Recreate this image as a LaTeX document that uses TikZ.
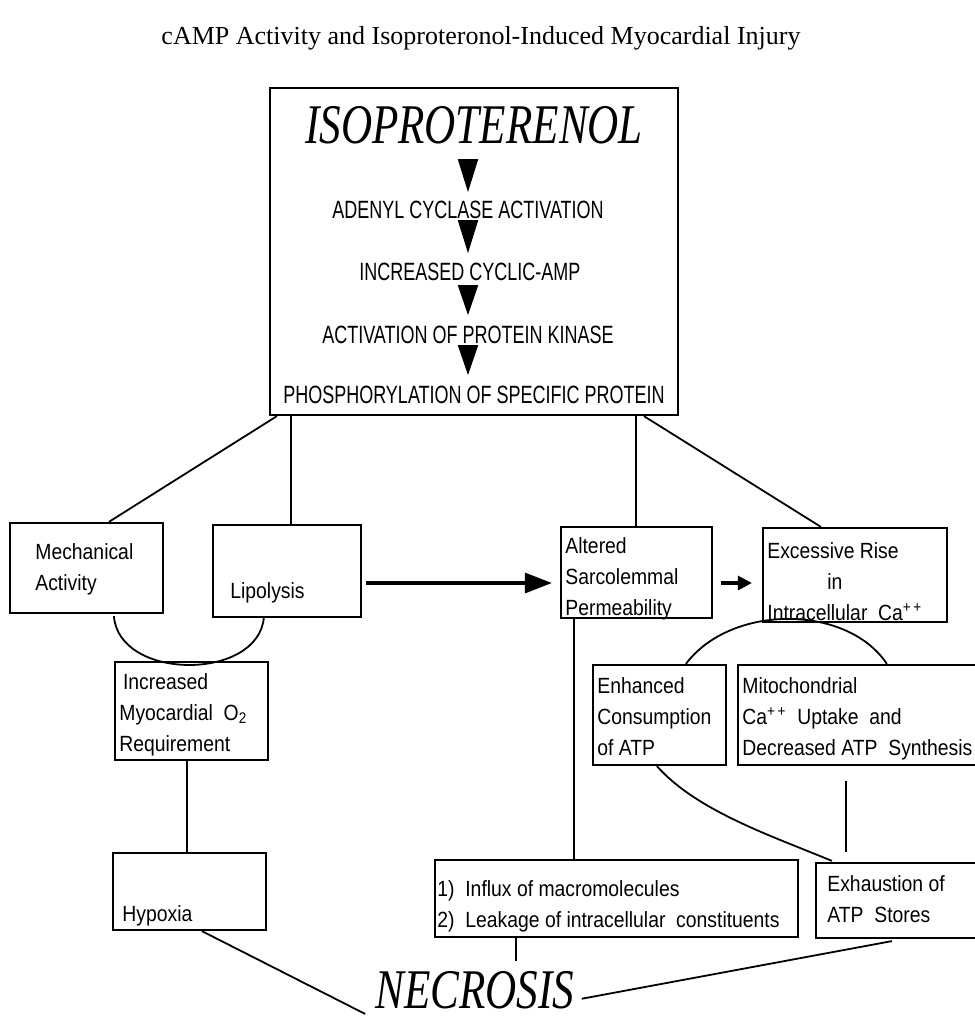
\documentclass[tikz,border=0pt]{standalone}
\usepackage{fontspec}
\setmainfont{Liberation Serif}
\newfontfamily\boxfont[FakeStretch=0.88]{Liberation Sans}
\newfontfamily\chainfont[FakeStretch=0.72]{Liberation Sans}
\newfontfamily\isofont[FakeStretch=0.77]{Liberation Serif}
\usetikzlibrary{arrows.meta}
\usetikzlibrary{calc}
\usetikzlibrary{fit}

\tikzset{
  box/.style={draw,line width=1.1pt,rectangle,inner sep=0pt},
  lbl/.style={font=\boxfont\fontsize{11}{15.5}\selectfont,align=left,inner sep=0pt,anchor=north west},
  chainline/.style={font=\chainfont\fontsize{12.5}{15}\selectfont,inner sep=0pt,anchor=base},
  bigword/.style={font=\isofont\itshape\fontsize{28}{30}\selectfont,inner sep=0pt,anchor=base},
  wire/.style={line width=0.9pt},
  fat/.style={line width=1.6pt},
}

\begin{document}
\begin{tikzpicture}[x=0.5pt,y=-0.5pt]
\useasboundingbox (0,0) rectangle (975,1019);
\fill[white] (0,0) rectangle (975,1019);
\clip (0,0) rectangle (975,1019);

\node[font=\fontsize{13}{15}\selectfont,anchor=base] (title) at (481,44) {cAMP Activity and Isoproteronol-Induced Myocardial Injury};

% top box with the cascade
\node[box,fit={(270,88) (678,415)}] (top) {};
\node[bigword] (iso) at (474,143) {ISOPROTERENOL};
\node[chainline] (acl) at (468,218) {ADENYL CYCLASE ACTIVATION};
\node[chainline] (camp) at (470,280) {INCREASED CYCLIC-AMP};
\node[chainline] (pk) at (468,343) {ACTIVATION OF PROTEIN KINASE};
\node[chainline] (phos) at (474,403) {PHOSPHORYLATION OF SPECIFIC PROTEIN};
\foreach \u/\v/\a/\b/\l in {iso/acl/8pt/4pt/16.5pt, acl/camp/1pt/4.5pt/16.5pt, camp/pk/2.5pt/5pt/15pt, pk/phos/1pt/5pt/15pt}
  \draw[wire,shorten <=\a,shorten >=\b,-{Triangle[length=\l,width=10pt]}] (acl.north |- \u.south) -- (acl.north |- \v.north);

% boxes
\node[box,fit={(10,523) (163,613)}] (mech) {};
\node[box,fit={(213,525) (361,617)}] (lip) {};
\node[box,fit={(561,527) (712,618)}] (alt) {};
\node[box,fit={(763,528) (947,622)}] (exc) {};
\node[box,fit={(115,662) (268,760)}] (inc) {};
\node[box,fit={(593,665) (726,765)}] (enh) {};
\node[box,fit={(738,665) (1000,765)}] (mito) {};
\node[box,fit={(113,853) (266,930)}] (hyp) {};
\node[box,fit={(435,860) (798,937)}] (infl) {};
\node[box,fit={(816,863) (1000,938)}] (exh) {};

% texts of the boxes
\node[lbl] (mech-t) at (35,543) {Mechanical\\Activity};
\node[lbl] (lip-t) at (230,582) {Lipolysis};
\node[lbl] (inc-t) at (119,673) {\,Increased\\Myocardial\ \ O\textsubscript{2}\\Requirement};
\node[lbl] (hyp-t) at (122,905) {Hypoxia};
\node[lbl] (alt-t) at (565,537) {Altered\\Sarcolemmal\\Permeability};
\node[lbl] (exc-t) at (767,542) {Excessive Rise\\\hspace*{30pt}in\\Intracellular\ \ Ca\textsuperscript{+\,+}};
\node[lbl] (enh-t) at (597,677) {Enhanced\\Consumption\\of ATP};
\node[lbl] (mito-t) at (742,677) {Mitochondrial\\Ca\textsuperscript{+\,+}\ \ Uptake\ \ and\\Decreased ATP\ \ Synthesis};
\node[lbl] (infl-t) at (437,880) {1)\ \ Influx of macromolecules\\2)\ \ Leakage of intracellular\ \ constituents};
\node[lbl] (exh-t) at (827,875) {Exhaustion of\\ATP\ \ Stores};

\node[bigword,inner sep=5pt] (nec) at (475,1008) {NECROSIS};

% connectors
\draw[wire] ($(top.south west)+(8,0)$) -- ($(mech.north west)+(100,0)$);
\draw[wire] ($(top.south west)+(22,0)$) -- ($(lip.north west)+(79,0)$);
\draw[wire] ($(top.south west)+(367,0)$) -- ($(alt.north west)+(76,0)$);
\draw[wire] ($(top.south west)+(375,0)$) -- ($(exc.north west)+(59,0)$);
\draw[fat,-{Triangle[length=13.5pt,width=10pt]}] ($(lip.east)+(4,12)$) -- ($(alt.west)+(-8,10.5)$);
\draw[fat,-{Triangle[length=7pt,width=7pt]}] ($(alt.east)+(8,10.5)$) -- ($(exc.west)+(-10,8)$);
\draw[wire] ($(mech.south west)+(105,2)$) .. controls +(5,65) and +(-5,64) .. ($(lip.south west)+(52,-1)$);
\draw[wire] ($(enh.north west)+(94,0)$) .. controls +(45,-60) and +(-40,-60) .. ($(mito.north west)+(150,0)$);
\draw[wire] ($(enh.south west)+(65,0)$) .. controls +(40,45) and +(-60,-25) .. ($(exh.north west)+(17,-1)$);
\draw[wire,shorten <=7.5pt,shorten >=5pt] ($(mito.south west)+(109,0)$) -- ($(exh.north west)+(31,0)$);
\draw[wire] ($(alt.south west)+(14,0)$) -- ($(infl.north west)+(140,0)$);
\draw[wire] ($(inc.south west)+(73,0)$) -- ($(hyp.north west)+(75,0)$);
\draw[wire] ($(hyp.south west)+(90,0)$) -- ($(nec.south west)+(0,-5)$);
\draw[wire] ($(infl.south west)+(82,0)$) coordinate (q) -- (q |- nec.north);
\draw[wire] ($(nec.east)+(-3,9)$) -- ($(exh.south west)+(77,2)$);

\end{tikzpicture}
\end{document}
